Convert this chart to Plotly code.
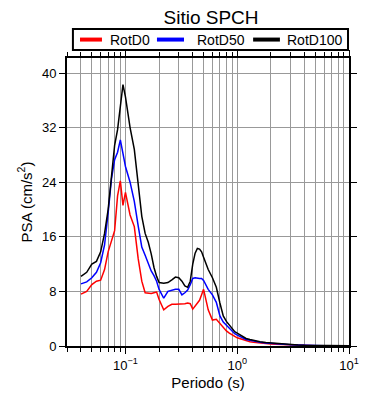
import plotly.graph_objects as go

periods = [0.04, 0.045, 0.05, 0.055, 0.06, 0.065, 0.07, 0.075, 0.08, 0.085, 0.09, 0.095,
           0.1, 0.11, 0.12, 0.13, 0.14, 0.15, 0.16, 0.17, 0.18, 0.19, 0.2, 0.22, 0.24,
           0.26, 0.28, 0.3, 0.32, 0.34, 0.36, 0.38, 0.4, 0.42, 0.44, 0.46, 0.48, 0.5,
           0.55, 0.6, 0.65, 0.7, 0.75, 0.8, 0.85, 0.9, 0.95, 1.0, 1.1, 1.2, 1.3, 1.4,
           1.5, 1.6, 1.8, 2.0, 2.2, 2.5, 3, 3.5, 4, 5, 6, 7, 8, 9, 10]

rotd100 = [10.2, 10.8, 12.0, 12.4, 13.8, 16.5, 20.0, 25.0, 29.4, 31.7, 35.0, 38.3,
           36.5, 32.0, 28.8, 23.5, 19.0, 16.5, 15.2, 13.5, 11.5, 10.2, 9.3, 9.2, 9.3,
           9.7, 10.1, 10.0, 9.5, 8.8, 8.6, 9.5, 12.0, 13.6, 14.3, 14.2, 13.8, 13.0,
           11.2, 10.0, 8.6, 6.3, 4.4, 3.6, 3.1, 2.5, 2.1, 1.9, 1.45, 1.1, 0.95, 0.8,
           0.72, 0.63, 0.5, 0.43, 0.37, 0.3, 0.22, 0.16, 0.12, 0.08, 0.06, 0.05, 0.04, 0.035, 0.03]

rotd50 = [9.1, 9.4, 10.0, 10.8, 12.2, 14.8, 19.5, 24.5, 27.3, 28.4, 30.2, 28.0,
          26.3, 24.0, 21.2, 17.6, 14.5, 13.3, 12.0, 11.0, 10.3, 9.5, 8.3, 7.0, 8.0,
          8.2, 8.3, 8.3, 7.5, 7.8, 8.2, 9.0, 9.9, 10.0, 9.9, 9.9, 9.9, 9.6,
          8.3, 7.5, 6.4, 4.4, 3.5, 3.0, 2.5, 2.1, 1.8, 1.6, 1.25, 0.95, 0.85, 0.72,
          0.63, 0.55, 0.45, 0.38, 0.32, 0.26, 0.19, 0.14, 0.10, 0.07, 0.05, 0.04, 0.035, 0.03, 0.025]

rotd0 = [7.6, 8.0, 9.0, 9.5, 9.65, 11.2, 13.8, 15.5, 16.9, 22.0, 24.2, 20.6,
         22.5, 19.2, 17.5, 12.8, 9.5, 7.8, 7.7, 7.7, 7.8, 7.9, 6.8, 5.3, 5.8,
         6.1, 6.1, 6.1, 6.2, 6.2, 6.3, 6.2, 5.4, 5.8, 6.2, 6.7, 7.5, 8.3,
         5.3, 3.8, 3.9, 3.3, 2.8, 2.2, 1.9, 1.6, 1.4, 1.2, 0.95, 0.75, 0.62, 0.55,
         0.48, 0.42, 0.34, 0.28, 0.24, 0.2, 0.15, 0.11, 0.08, 0.05, 0.04, 0.03, 0.025, 0.02, 0.02]

series_names = ["RotD0", "RotD50", "RotD100"]
series_colors = ["#ff0000", "#0000ff", "#000000"]
series_values = [rotd0, rotd50, rotd100]

x_major = [0.1, 1, 10]
x_major_text = ["10<sup>−1</sup>", "10<sup>0</sup>", "10<sup>1</sup>"]
x_minor = [m * 10 ** e for e in (-2, -1, 0) for m in range(2, 10)]
y_ticks = [0, 8, 16, 24, 32, 40]

fig = go.Figure()
for name, color, vals in zip(series_names, series_colors, series_values):
    fig.add_trace(go.Scatter(x=periods, y=vals, mode="lines", name=name,
                             line=dict(color=color, width=1.5), showlegend=False))

# Custom legend box (GMT-style) in paper coordinates
leg_line_x = [(0.046, 0.124), (0.319, 0.415), (0.660, 0.755)]
leg_text_x = [0.145, 0.454, 0.773]
leg_y = 1.064
shapes = [dict(type="rect", xref="paper", yref="paper", x0=0.021, x1=0.9965,
               y0=1.028, y1=1.101, line=dict(color="black", width=2),
               fillcolor="white", layer="above")]
annotations = []
for name, color, (lx0, lx1), tx in zip(series_names, series_colors, leg_line_x, leg_text_x):
    shapes.append(dict(type="line", xref="paper", yref="paper", x0=lx0, x1=lx1,
                       y0=leg_y, y1=leg_y, line=dict(color=color, width=4), layer="above"))
    annotations.append(dict(text=name, xref="paper", yref="paper", x=tx, y=leg_y,
                            xanchor="left", yanchor="middle", showarrow=False,
                            font=dict(size=14)))

font_family = "Liberation Sans, Arial, sans-serif"
fig.update_layout(
    width=390, height=400,
    margin=dict(l=59, r=49, t=50, b=62, autoexpand=False),
    paper_bgcolor="white", plot_bgcolor="white",
    font=dict(family=font_family, color="black", size=13),
    title=dict(text="Sitio SPCH", x=203 / 390, xref="container", xanchor="center",
               y=1 - 3 / 400, yref="container", yanchor="top", pad=dict(t=0),
               font=dict(size=19)),
    showlegend=False,
    shapes=shapes,
    annotations=annotations,
)
fig.update_xaxes(
    type="log", range=[-1.523, 1.0],
    tickvals=x_major, ticktext=x_major_text,
    ticks="outside", ticklen=6, tickwidth=1, tickcolor="black",
    showline=True, linewidth=2, linecolor="black", mirror="ticks",
    showgrid=True, gridcolor="#999999", gridwidth=1,
    minor=dict(tickvals=x_minor, ticks="outside", ticklen=4, tickcolor="black",
               showgrid=True, gridcolor="#999999", gridwidth=1),
    title=dict(text="Periodo (s)", font=dict(size=15), standoff=6),
    tickfont=dict(size=13), zeroline=False, automargin=False,
)
fig.update_yaxes(
    range=[0, 42.2], tickvals=y_ticks,
    ticks="outside", ticklen=6, tickwidth=1, tickcolor="black",
    showline=True, linewidth=2, linecolor="black", mirror="ticks",
    showgrid=True, gridcolor="#999999", gridwidth=1,
    title=dict(text="PSA (cm/s<sup>2</sup>)", font=dict(size=15), standoff=6),
    tickfont=dict(size=13), zeroline=False, automargin=False,
)

fig.write_html("out.html")
